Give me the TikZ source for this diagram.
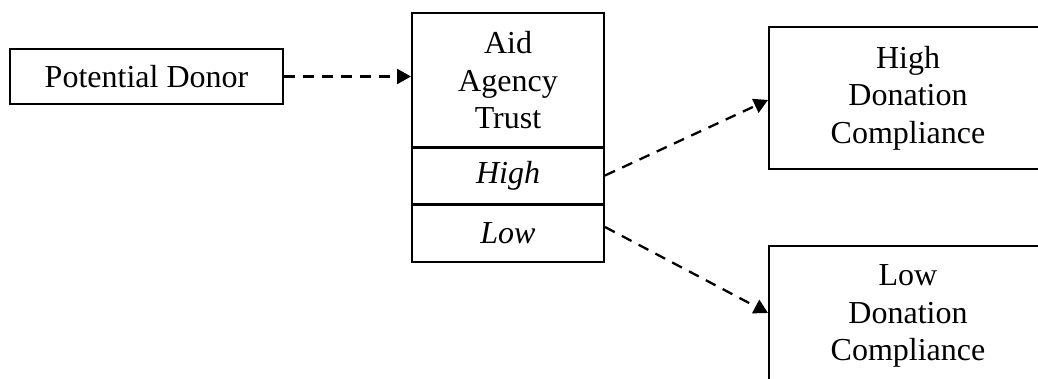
\documentclass[tikz,border=0pt]{standalone}
\usepackage{fontspec}
\setmainfont{Liberation Serif}
\usetikzlibrary{arrows.meta}
\begin{document}
\begin{tikzpicture}[x=1pt,y=-1pt,
  box/.style={draw, line width=2pt, rectangle, align=center, inner sep=0pt,
    font=\fontsize{32}{37.5}\selectfont},
  cell/.style={box, font=\fontsize{32}{37.5}\selectfont\itshape},
  link/.style={line width=2.3pt, dash pattern=on 11pt off 8pt,
    -{Triangle[length=14pt,width=15pt]}}]
\useasboundingbox (0,0) rectangle (1038,379);
\clip (0,0) rectangle (1038,379);
% source
\node[box, minimum width=273pt, minimum height=55pt] (donor) at (146.5,76.5) {Potential Donor};
% trust block with its two levels
\node[box, minimum width=192pt, minimum height=133.5pt] (trust) at (508,80.25) {Aid\\Agency\\Trust};
\node[cell, minimum width=192pt, minimum height=57pt] (high) at (508,175.5) {High};
\node[cell, minimum width=192pt, minimum height=58pt] (low) at (508,233) {Low};
\draw[line width=2.8pt] (trust.south west) -- (trust.south east);
\draw[line width=2.8pt] (high.south west) -- (high.south east);
% outcomes
\node[box, minimum width=278pt, minimum height=142pt] (hout) at (908,98) {High\\Donation\\Compliance};
\node[box, minimum width=278pt, minimum height=140pt] (lout) at (908,316) {Low\\Donation\\Compliance};
% connectors
\draw[link] (donor.east) -- (trust.west |- donor.east);
\draw[link] (high.east) -- ([yshift=-2pt]hout.west);
\draw[link] ([yshift=6pt]low.east) -- ([yshift=3pt]lout.west);
\end{tikzpicture}
\end{document}
